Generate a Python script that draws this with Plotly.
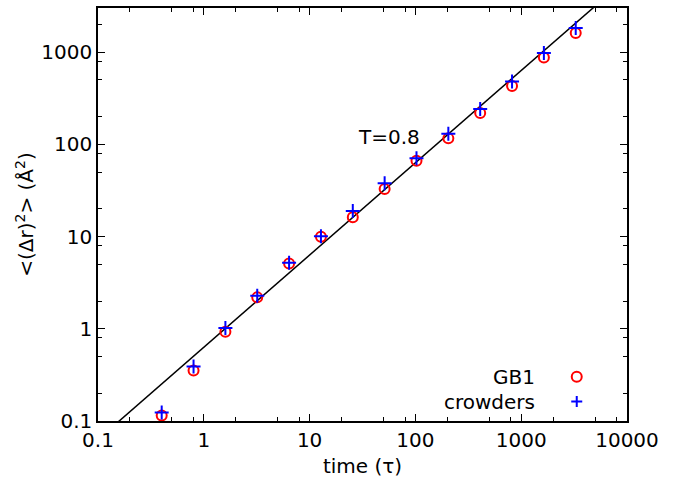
import plotly.graph_objects as go

# ---- data ----
time_tau = [0.4, 0.8, 1.6, 3.2, 6.4, 12.8, 25.6, 51.2, 102.4, 204.8, 409.6, 819.2, 1638.4, 3276.8]
msd_gb1 = [0.115, 0.352, 0.93, 2.19, 5.1, 9.95, 16.2, 32.8, 66.5, 116, 218, 430, 873, 1607]
msd_crowders = [0.124, 0.39, 1.02, 2.28, 5.2, 10.1, 18.9, 37.8, 70.6, 130, 242, 480, 975, 1824]
fit_coef = 0.63      # y = fit_coef * t^fit_exp
fit_exp = 1.0
fit_t = [0.1, 10000]
fit_y = [fit_coef * t ** fit_exp for t in fit_t]

x_major = [0.1, 1, 10, 100, 1000, 10000]
x_major_text = ["0.1", "1", "10", "100", "1000", "10000"]
y_major = [0.1, 1, 10, 100, 1000]
y_major_text = ["0.1", "1", "10", "100", "1000"]
x_minor = [m * d for d in [0.1, 1, 10, 100, 1000] for m in (2, 5, 8)]
y_minor = [m * d for d in [0.1, 1, 10, 100, 1000] for m in (2, 5, 8)]

FONT = "DejaVu Sans"
FS = 20

fig = go.Figure()
fig.add_trace(go.Scatter(x=fit_t, y=fit_y, mode="lines",
                         line=dict(color="black", width=1.5), showlegend=False))
fig.add_trace(go.Scatter(x=time_tau, y=msd_gb1, mode="markers", name="GB1",
                         marker=dict(symbol="circle-open", size=10, color="red",
                                     line=dict(width=2, color="red")),
                         showlegend=False))
fig.add_trace(go.Scatter(x=time_tau, y=msd_crowders, mode="markers", name="crowders",
                         marker=dict(symbol="cross-thin", size=10, color="blue",
                                     line=dict(width=2, color="blue")),
                         showlegend=False))

axis_common = dict(type="log", showline=True, linecolor="black", linewidth=1.5,
                   mirror="ticks", ticks="inside", ticklen=7, tickwidth=1.3,
                   tickcolor="black", showgrid=False, zeroline=False, automargin=False,
                   tickfont=dict(family=FONT, size=FS, color="black"))

fig.update_xaxes(**axis_common, range=[-1, 4], tickmode="array",
                 tickvals=x_major, ticktext=x_major_text,
                 minor=dict(tickmode="array", tickvals=x_minor, ticks="inside",
                            ticklen=4, tickwidth=1.2, tickcolor="black", showgrid=False),
                 title=dict(text="time (τ)", font=dict(family=FONT, size=FS, color="black"),
                            standoff=9))
fig.update_yaxes(**axis_common, range=[-1, 3.478], tickmode="array",
                 tickvals=y_major, ticktext=y_major_text,
                 minor=dict(tickmode="array", tickvals=y_minor, ticks="inside",
                            ticklen=4, tickwidth=1.2, tickcolor="black", showgrid=False),
                 title=dict(text="<(Δr)<sup>2</sup>> (Å<sup>2</sup>)",
                            font=dict(family=FONT, size=FS, color="black"), standoff=2))

# annotation
fig.add_annotation(x=0.55, y=0.688, xref="paper", yref="paper", text="T=0.8",
                   showarrow=False, font=dict(family=FONT, size=FS, color="black"),
                   xanchor="center", yanchor="middle")

# custom legend (text right-aligned, symbol on the right)
fig.add_annotation(x=0.829, y=0.107, xref="paper", yref="paper", text="GB1",
                   showarrow=False, xanchor="right", yanchor="middle",
                   font=dict(family=FONT, size=FS, color="black"))
fig.add_annotation(x=0.829, y=0.047, xref="paper", yref="paper", text="crowders",
                   showarrow=False, xanchor="right", yanchor="middle",
                   font=dict(family=FONT, size=FS, color="black"))
fig.add_shape(type="circle", xref="paper", yref="paper", xsizemode="pixel", ysizemode="pixel",
              xanchor=0.905, yanchor=0.107, x0=-5, x1=5, y0=-5, y1=5,
              line=dict(color="red", width=2))
fig.add_shape(type="path", xref="paper", yref="paper", xsizemode="pixel", ysizemode="pixel",
              xanchor=0.905, yanchor=0.047, path="M-5.5,0 L5.5,0 M0,-5.5 L0,5.5",
              line=dict(color="blue", width=2))

fig.update_layout(width=676, height=478, margin=dict(l=98, r=49, t=8, b=57),
                  plot_bgcolor="white", paper_bgcolor="white",
                  font=dict(family=FONT, size=FS, color="black"), showlegend=False)

fig.write_html("out.html", config={"displayModeBar": False},
               post_script="document.body.style.margin='0px';document.body.style.overflow='hidden';")
